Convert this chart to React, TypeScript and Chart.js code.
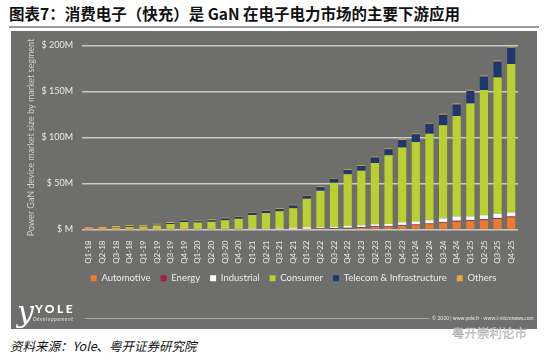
import React, { useEffect, useRef } from "react";
import { Chart, registerables } from "chart.js";

Chart.register(...registerables);

const quarters = [
  "Q1-18", "Q2-18", "Q3-18", "Q4-18",
  "Q1-19", "Q2-19", "Q3-19", "Q4-19",
  "Q1-20", "Q2-20", "Q3-20", "Q4-20",
  "Q1-21", "Q2-21", "Q3-21", "Q4-21",
  "Q1-22", "Q2-22", "Q3-22", "Q4-22",
  "Q1-23", "Q2-23", "Q3-23", "Q4-23",
  "Q1-24", "Q2-24", "Q3-24", "Q4-24",
  "Q1-25", "Q2-25", "Q3-25", "Q4-25",
];

// $M per quarter, by market segment
const automotive = [0.1, 0.1, 0.1, 0.1, 0.1, 0.1, 0.1, 0.1, 0.1, 0.1, 0.1, 0.1, 0.2, 0.2, 0.2, 0.2, 0.3, 0.5, 0.8, 1.2, 1.8, 2.6, 3.0, 4.0, 4.6, 5.6, 7.0, 8.4, 9.0, 10.0, 11.5, 13.0];
const energy = [0.1, 0.1, 0.1, 0.1, 0.1, 0.1, 0.1, 0.1, 0.1, 0.1, 0.1, 0.1, 0.1, 0.1, 0.2, 0.2, 0.3, 0.8, 0.8, 0.8, 0.8, 0.8, 0.8, 0.8, 0.8, 0.8, 1.0, 1.0, 1.0, 1.0, 1.0, 1.0];
const industrial = [0.1, 0.1, 0.2, 0.2, 0.2, 0.3, 0.4, 0.5, 0.5, 0.5, 0.5, 0.6, 0.8, 0.8, 1.0, 1.5, 1.8, 1.2, 1.5, 1.8, 2.0, 2.2, 2.2, 3.0, 3.3, 3.6, 4.0, 4.6, 4.0, 4.6, 4.6, 4.6];
const consumer = [0.2, 0.3, 1.2, 2.4, 2.8, 3.9, 5.3, 7.5, 6.8, 7.6, 9.3, 10.9, 14.7, 16.8, 18.4, 21.1, 31.0, 39.6, 47.7, 56.2, 59.3, 66.6, 74.6, 81.4, 86.4, 94.0, 101.3, 109.3, 122.8, 136.0, 148.1, 161.3];
const telecom = [0, 0, 0.3, 0.8, 0.6, 0.8, 1.2, 1.5, 1.5, 1.8, 2.0, 2.2, 2.4, 2.6, 2.6, 3.0, 3.3, 3.8, 4.4, 4.6, 5.2, 6.0, 6.6, 8.0, 8.5, 11.0, 11.4, 12.5, 14.0, 14.7, 17.3, 17.6];
const others = [2.0, 2.0, 1.8, 1.2, 1.0, 1.0, 1.0, 1.0, 0.9, 0.9, 0.8, 0.8, 0.8, 0.8, 0.8, 0.8, 0.8, 0.8, 0.8, 0.8, 0.8, 0.8, 0.8, 0.8, 0.8, 0.8, 1.0, 1.0, 1.0, 1.0, 1.0, 1.0];

const yTicks = [0, 50, 100, 150, 200];

const seriesNames = ["Automotive", "Energy", "Industrial", "Consumer", "Telecom & Infrastructure", "Others"];
const seriesColors = ["#ef7a2c", "#a31f42", "#ffffff", "#b9d030", "#1e386c", "#e3a93a"];

const FONT = "Lato, 'Open Sans', sans-serif";

const legendShift = {
  id: "legendShift",
  afterLayout(chart: any) {
    const lg = chart.legend;
    if (lg) {
      lg.left += 29;
      lg.right += 29;
    }
  },
};

function ChartBox() {
  const ref = useRef<HTMLCanvasElement | null>(null);
  useEffect(() => {
    if (!ref.current) return;
    const values = [automotive, energy, industrial, consumer, telecom, others];
    const chart = new Chart(ref.current, {
      type: "bar",
      data: {
        labels: quarters,
        datasets: seriesNames.map((name, i) => ({
          label: name,
          data: values[i],
          backgroundColor: seriesColors[i],
          borderWidth: 0,
          categoryPercentage: 1,
          barPercentage: 0.6,
        })),
      },
      plugins: [legendShift],
      options: {
        responsive: false,
        animation: false,
        maintainAspectRatio: false,
        layout: { padding: { top: 14, right: 19, left: 0, bottom: 4 } },
        plugins: {
          tooltip: { enabled: false },
          legend: {
            position: "bottom",
            labels: {
              boxWidth: 6,
              boxHeight: 6,
              color: "#ececec",
              padding: 10,
              font: { size: 9.5, family: FONT },
            },
          },
        },
        scales: {
          x: {
            stacked: true,
            grid: { display: false },
            border: { display: false },
            afterFit: (s: any) => { s.height = 34; },
            ticks: {
              color: "#ececec",
              minRotation: 90,
              maxRotation: 90,
              autoSkip: false,
              padding: 3,
              font: { size: 8, family: FONT },
            },
          },
          y: {
            stacked: true,
            min: 0,
            max: 200,
            afterFit: (s: any) => { s.width = 71; },
            afterBuildTicks: (s: any) => { s.ticks = yTicks.map((v) => ({ value: v })); },
            grid: { color: "#c9c9c9", lineWidth: 1.6, drawTicks: false },
            border: { display: false },
            title: {
              display: true,
              text: "Power GaN device market size by market segment",
              color: "#cfcfcf",
              padding: { top: 15, bottom: 0 },
              font: { size: 9, family: FONT },
            },
            ticks: {
              color: "#ececec",
              padding: 9,
              font: { size: 9, family: FONT },
              callback: (v: any) => (v === 0 ? "$ M" : `$ ${v}M`),
            },
          },
        },
      },
    });
    return () => chart.destroy();
  }, []);
  return <canvas ref={ref} width={526} height={266} style={{ position: "absolute", left: 0, top: 0, width: 526, height: 266 }} />;
}

export default function App() {
  return (
    <div style={{ position: "fixed", left: 0, top: 0, width: 550, height: 360, background: "#ffffff", overflow: "hidden", fontFamily: "'Noto Sans CJK SC', sans-serif" }}>
      <div style={{ position: "absolute", left: 9, top: 2, fontSize: 15.5, fontWeight: 700, color: "#111", whiteSpace: "nowrap" }}>
        图表7：消费电子（快充）是 GaN 在电子电力市场的主要下游应用
      </div>
      <div style={{ position: "absolute", left: 9, top: 26, width: 530, height: 2, background: "#9a9a9a" }} />
      <div style={{ position: "absolute", left: 11, top: 31, width: 526, height: 298, background: "#6e6e6c" }}>
        <ChartBox />
        <div style={{ position: "absolute", left: 6, top: 266, fontFamily: "'DejaVu Serif', serif", fontStyle: "italic", fontSize: 30, color: "#ffffff", lineHeight: "30px" }}>y</div>
        <div style={{ position: "absolute", left: 24, top: 272, fontFamily: FONT, fontWeight: 900, fontSize: 12, color: "#ffffff", letterSpacing: 2.5, lineHeight: "12px" }}>YOLE</div>
        <div style={{ position: "absolute", left: 22, top: 285, fontFamily: FONT, fontStyle: "italic", fontSize: 5, color: "#e0e0e0", letterSpacing: 0.6, lineHeight: "6px" }}>Développement</div>
        <div style={{ position: "absolute", left: 74, top: 287, width: 344, height: 1, background: "#a9a9a9" }} />
        <div style={{ position: "absolute", left: 421, top: 284, fontFamily: FONT, fontSize: 5, color: "#e6e6e6", whiteSpace: "nowrap", lineHeight: "6px" }}>© 2020 | www.yole.fr - www.i-micronews.com</div>
      </div>
      <div style={{ position: "absolute", left: 10, top: 336, fontSize: 12.5, fontStyle: "italic", color: "#111", whiteSpace: "nowrap" }}>
        资料来源：Yole、粤开证券研究院
      </div>
      <div style={{ position: "absolute", left: 452, top: 323, fontSize: 12.5, color: "#d8d8d8", whiteSpace: "nowrap", WebkitTextStroke: "0.3px #9a9a9a" }}>
        粤开崇利论市
      </div>
    </div>
  );
}
